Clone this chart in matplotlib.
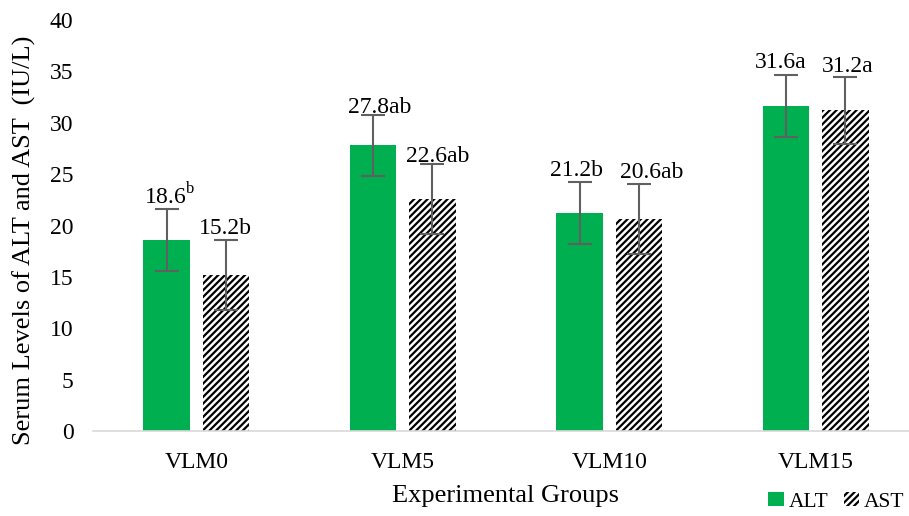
import numpy as np
import matplotlib.pyplot as plt
from matplotlib.patches import Patch

plt.rcParams['font.family'] = ['Liberation Serif', 'DejaVu Serif']
plt.rcParams['mathtext.fontset'] = 'custom'
plt.rcParams['mathtext.rm'] = 'Liberation Serif'
plt.rcParams['hatch.linewidth'] = 1.6

# 数据
groups = ['VLM0', 'VLM5', 'VLM10', 'VLM15']
alt = [18.6, 27.8, 21.2, 31.6]
ast = [15.2, 22.6, 20.6, 31.2]
alt_err = [3.0, 3.0, 3.0, 3.0]
ast_err = [3.4, 3.4, 3.4, 3.3]
alt_sig = [r'$^{\mathrm{b}}$', 'ab', 'b', 'a']
ast_sig = ['b', 'ab', 'ab', 'a']

# label nudges in pixels (dx, dy above the cap)
alt_nudge = [(3, 5), (6, 2), (-3, 6), (-6, 7)]
ast_nudge = [(0, 6), (5, 2), (13, 6), (2, 5)]

green = '#00B050'
err_col = '#606060'
hatch = '/////'

fig = plt.figure(figsize=(9.09, 5.16), dpi=100)
ax = fig.add_axes([93 / 909, 1 - 431 / 516, (919 - 93) / 909, (431 - 20) / 516])

x = np.arange(len(groups))
w = 0.225
off = 0.143

ax.bar(x - off, alt, w, color=green, linewidth=0, zorder=2)
ax.bar(x + off, ast, w, color='white', edgecolor='black', hatch=hatch,
       linewidth=0, zorder=2)
ax.errorbar(x - off, alt, yerr=alt_err, fmt='none', ecolor=err_col,
            elinewidth=1.5, capsize=8.5, capthick=1.5, zorder=3)
ax.errorbar(x + off, ast, yerr=ast_err, fmt='none', ecolor=err_col,
            elinewidth=1.5, capsize=8.5, capthick=1.5, zorder=3)

# 数值标注
for i in range(len(groups)):
    ax.annotate(f'{alt[i]}{alt_sig[i]}', (x[i] - off, alt[i] + alt_err[i]),
                xytext=alt_nudge[i], textcoords='offset pixels',
                ha='center', va='baseline', fontsize=17)
    ax.annotate(f'{ast[i]}{ast_sig[i]}', (x[i] + off, ast[i] + ast_err[i]),
                xytext=ast_nudge[i], textcoords='offset pixels',
                ha='center', va='baseline', fontsize=17)

ax.set_xlim(-0.5, 3.5)
ax.set_ylim(0, 40)
ax.set_yticks(range(0, 41, 5))
ax.set_xticks(x)
ax.set_xticklabels(groups)
ax.tick_params(axis='both', length=0, labelsize=17)
ax.tick_params(axis='y', pad=14)
ax.tick_params(axis='x', pad=15)
for s in ['top', 'right', 'left']:
    ax.spines[s].set_visible(False)
ax.spines['bottom'].set_color('#D9D9D9')
ax.spines['bottom'].set_linewidth(1.2)

fig.text(506 / 909, 1 - 496 / 516, 'Experimental Groups', ha='center',
         va='center', fontsize=19)
fig.text(24 / 909, 1 - 240 / 516, 'Serum Levels of ALT and AST  (IU/L)',
         ha='center', va='center', rotation=90, fontsize=19)

handles = [Patch(facecolor=green, linewidth=0),
           Patch(facecolor='white', edgecolor='black', hatch=hatch, linewidth=0)]
fig.legend(handles, ['ALT', 'AST'], loc='lower right', bbox_to_anchor=(1.0, 0.0),
           ncol=2, frameon=False, fontsize=15.5, handlelength=0.7,
           handleheight=0.6, handletextpad=0.25, columnspacing=0.7,
           borderpad=0.1, borderaxespad=0.1)

fig.savefig('out.png', dpi=100)
